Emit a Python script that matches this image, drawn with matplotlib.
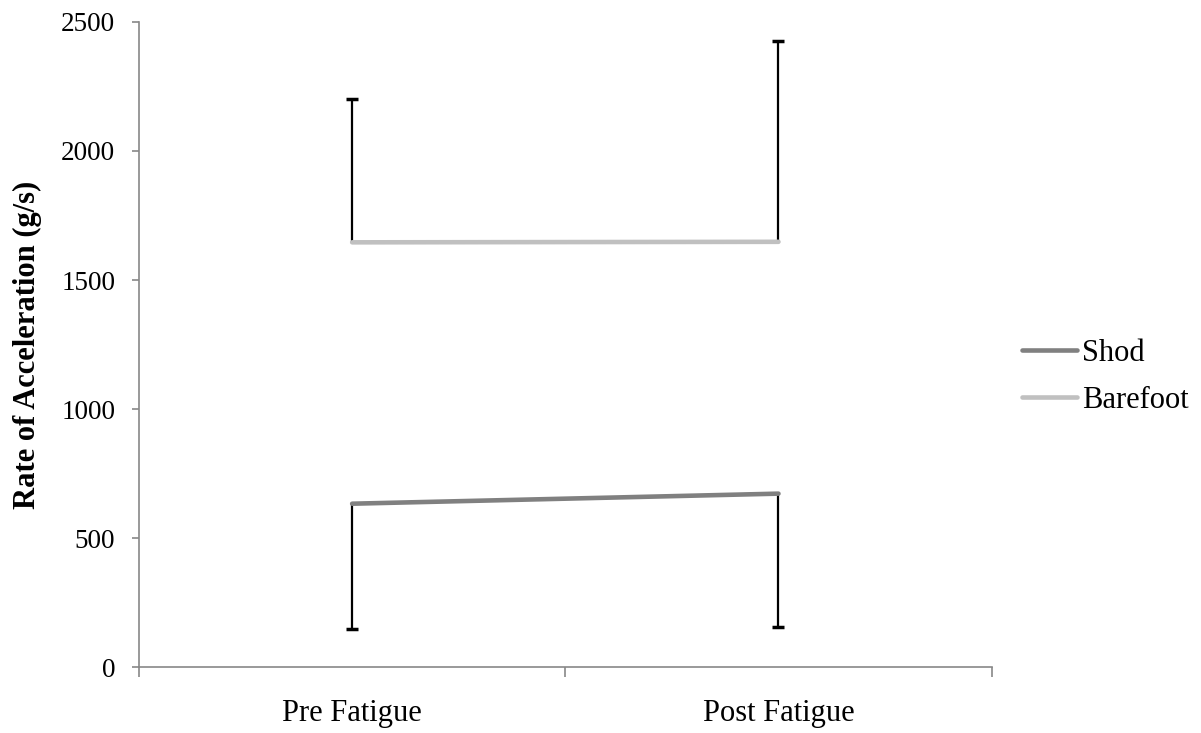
import matplotlib.pyplot as plt

categories = ["Pre Fatigue", "Post Fatigue"]
shod = [633, 672]
shod_err = [487, 518]        # drawn downward only
barefoot = [1646, 1648]
barefoot_err = [555, 778]    # drawn upward only

plt.rcParams['font.family'] = ['Liberation Serif', 'DejaVu Serif']
plt.rcParams['font.size'] = 22

fig = plt.figure(figsize=(12.01, 7.33), dpi=100)
ax = fig.add_axes([0.1157, 0.090, 0.710, 0.880])

x = list(range(len(categories)))
shod_low = [v - e for v, e in zip(shod, shod_err)]
bare_high = [v + e for v, e in zip(barefoot, barefoot_err)]

# one-sided error bars
ax.vlines(x, shod_low, shod, color='black', lw=1.6, zorder=2)
ax.plot(x, shod_low, ls='none', marker='_', ms=9, mew=2.5, color='black', zorder=2)
ax.vlines(x, barefoot, bare_high, color='black', lw=1.6, zorder=2)
ax.plot(x, bare_high, ls='none', marker='_', ms=9, mew=2.5, color='black', zorder=2)

ax.plot(x, shod, color='#808080', lw=3.3, label='Shod', solid_capstyle='round', zorder=3)
ax.plot(x, barefoot, color='#c0c0c0', lw=3.3, label='Barefoot', solid_capstyle='round', zorder=3)

ax.set_xlim(-0.5, 1.5)
ax.set_ylim(0, 2500)
ax.set_yticks([0, 500, 1000, 1500, 2000, 2500])
ax.set_xticks([-0.5, 0.5, 1.5])
ax.set_xticklabels([])
ax.set_xticks(x, minor=True)
ax.set_xticklabels(categories, minor=True)
ax.tick_params(axis='x', which='major', length=7, width=1.2, color='#888888', direction='out')
ax.tick_params(axis='x', which='minor', length=0, pad=23)
ax.tick_params(axis='y', length=5, width=1.2, color='#888888', direction='out', pad=12,
               labelsize=19.5)

for s in ['top', 'right']:
    ax.spines[s].set_visible(False)
for s in ['left', 'bottom']:
    ax.spines[s].set_color('#888888')
    ax.spines[s].set_linewidth(1.2)

ax.set_ylabel('Rate of Acceleration (g/s)', fontweight='bold', labelpad=14)

ax.legend(loc='center left', bbox_to_anchor=(0.851, 0.486), bbox_transform=fig.transFigure,
          frameon=False, handlelength=1.8, handletextpad=0.15, labelspacing=0.6,
          borderpad=0, borderaxespad=0)

fig.savefig('out.png', dpi=100)
